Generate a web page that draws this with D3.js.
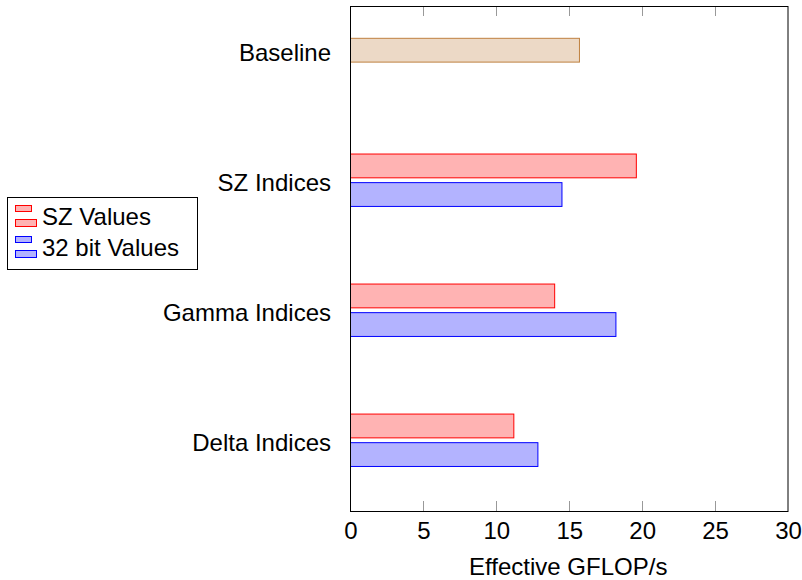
<!DOCTYPE html>
<html>
<head>
<meta charset="utf-8">
<script src="https://cdn.jsdelivr.net/npm/d3@7"></script>
<style>
  html, body { margin: 0; padding: 0; background: #fff; }
  text { font-family: "Liberation Sans", Arial, sans-serif; fill: #000; }
</style>
</head>
<body>
<svg id="chart" width="802" height="580"></svg>
<script>
// ---- data ----
const categories = ["Baseline", "SZ Indices", "Gamma Indices", "Delta Indices"];
const baselineValues = [15.7, null, null, null];
const szValues = [null, 19.6, 14.0, 11.2];
const bitValues = [null, 14.5, 18.2, 12.85];
const xTicks = [0, 5, 10, 15, 20, 25, 30];
const seriesNames = ["SZ Values", "32 bit Values"];

(function () {
// ---- layout ----
const svg = d3.select("#chart");
const pl = 350.5, pr = 788, pt = 6, pb = 511;
const fs = 24;

const x = d3.scaleLinear().domain([0, 30]).range([pl, pr]);
const y = d3.scaleLinear().domain([-0.34, 3.544]).range([pt, pb]);

const barH = 0.183;     // in category units
const shift = 0.11;

const series = [
  { values: baselineValues, off: 0, fill: "#ecd9c6", stroke: "#bf8040" },
  { values: szValues, off: -shift, fill: "#ffb3b3", stroke: "#ff0000" },
  { values: bitValues, off: shift, fill: "#b3b3ff", stroke: "#0000ff" }
];

// bars
series.forEach(s => {
  svg.append("g").selectAll("rect")
    .data(s.values.map((v, i) => ({ v, i })).filter(d => d.v !== null))
    .join("rect")
    .attr("x", x(0))
    .attr("y", d => y(d.i + s.off - barH / 2))
    .attr("width", d => x(d.v) - x(0))
    .attr("height", d => y(d.i + s.off + barH / 2) - y(d.i + s.off - barH / 2))
    .attr("fill", s.fill)
    .attr("stroke", s.stroke)
    .attr("stroke-width", 1);
});

// ticks (inward, bottom and top)
const tickLen = 10;
const tg = svg.append("g").attr("stroke", "#999").attr("stroke-width", 1);
xTicks.slice(1, -1).forEach(t => {
  const px = Math.round(x(t)) + 0.5;
  tg.append("line").attr("x1", px).attr("x2", px).attr("y1", pb).attr("y2", pb - tickLen);
  tg.append("line").attr("x1", px).attr("x2", px).attr("y1", pt).attr("y2", pt + tickLen);
});

// frame
svg.append("rect")
  .attr("x", pl).attr("y", pt + 0.5)
  .attr("width", pr - pl).attr("height", pb - pt)
  .attr("fill", "none").attr("stroke", "#000").attr("stroke-width", 1);

// bottom axis labels via d3 axis (labels only)
const axisG = svg.append("g").attr("transform", `translate(0,${pb})`)
  .call(d3.axisBottom(x).tickValues(xTicks).tickSize(0).tickPadding(0).tickFormat(d3.format("d")));
axisG.select(".domain").remove();
axisG.selectAll("text")
  .attr("font-family", "Liberation Sans, Arial, sans-serif")
  .attr("font-size", fs)
  .attr("dy", null)
  .attr("y", 27.5)
  .attr("fill", "#000");

// axis title
svg.append("text")
  .attr("x", (pl + pr) / 2 - 1)
  .attr("y", 575)
  .attr("text-anchor", "middle")
  .attr("font-size", fs)
  .text("Effective GFLOP/s");

// category labels
svg.append("g").selectAll("text")
  .data(categories)
  .join("text")
  .attr("x", 331)
  .attr("y", (d, i) => y(i) + 10.5)
  .attr("text-anchor", "end")
  .attr("font-size", fs)
  .text(d => d);

// legend
const lg = svg.append("g");
lg.append("rect")
  .attr("x", 7.5).attr("y", 197.5).attr("width", 190).attr("height", 72)
  .attr("fill", "#fff").attr("stroke", "#000").attr("stroke-width", 1);
const legendItems = [
  { name: seriesNames[0], fill: "#ffb3b3", stroke: "#ff0000", y0: 205.5 },
  { name: seriesNames[1], fill: "#b3b3ff", stroke: "#0000ff", y0: 236.5 }
];
legendItems.forEach(it => {
  lg.append("rect").attr("x", 15.5).attr("y", it.y0).attr("width", 16).attr("height", 6)
    .attr("fill", it.fill).attr("stroke", it.stroke);
  lg.append("rect").attr("x", 15.5).attr("y", it.y0 + 14).attr("width", 21).attr("height", 7)
    .attr("fill", it.fill).attr("stroke", it.stroke);
  lg.append("text").attr("x", 42).attr("y", it.y0 + 19.5).attr("font-size", fs).text(it.name);
});
})();
</script>
</body>
</html>
